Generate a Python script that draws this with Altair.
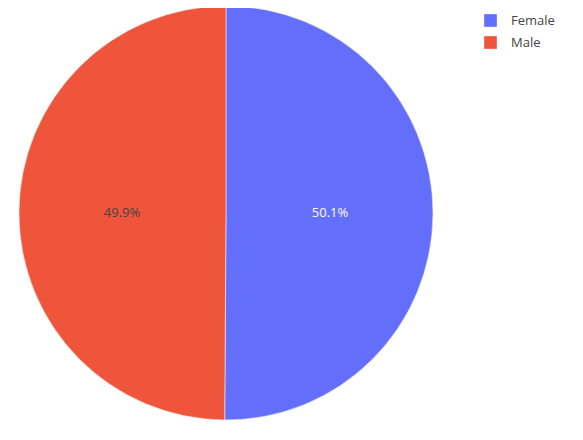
import altair as alt
import pandas as pd

genders = ["Female", "Male"]
shares = [50.1, 49.9]
labels = ["50.1%", "49.9%"]
label_colors = ["white", "#444444"]

df = pd.DataFrame({"gender": genders, "share": shares, "label": labels, "tc": label_colors})

base = alt.Chart(df).encode(
    theta=alt.Theta("share:Q", stack=True),
    x=alt.value(218), y=alt.value(205),
)

pie = base.mark_arc(outerRadius=207, stroke="white", strokeWidth=0.5).encode(
    color=alt.Color("gender:N", sort=genders,
                    scale=alt.Scale(domain=genders, range=["#636EFA", "#EF553B"]),
                    legend=alt.Legend(title=None, orient="none", legendX=476, legendY=6,
                                      symbolType="square", symbolSize=160, symbolStrokeWidth=0,
                                      labelFontSize=13, labelColor="#444444", labelFont="Open Sans",
                                      rowPadding=8, labelOffset=14)),
    order=alt.Order("share:Q", sort="descending"),
)

text = base.mark_text(radius=104, fontSize=13, font="Open Sans").encode(
    text="label:N",
    color=alt.Color("tc:N", scale=None),
    order=alt.Order("share:Q", sort="descending"),
)

chart = (pie + text).properties(
    width=567, height=424, autosize=alt.AutoSizeParams(type="none"), padding=0
).configure_view(stroke=None)

chart.save("out.html", embed_options={"renderer": "svg", "actions": False})
